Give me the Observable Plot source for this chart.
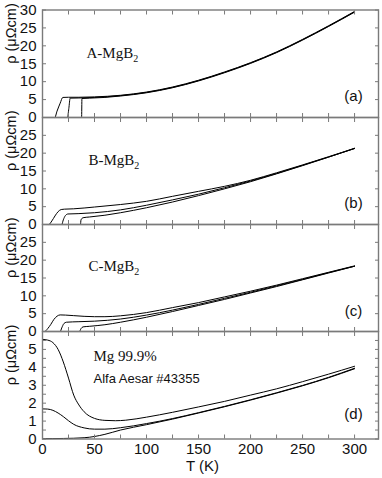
<!DOCTYPE html>
<html><head><meta charset="utf-8">
<script src="https://cdn.jsdelivr.net/npm/d3@7"></script>
<script src="https://cdn.jsdelivr.net/npm/@observablehq/plot@0.6"></script>
<style>
html,body{margin:0;padding:0;background:#fff;}
#chart{position:relative;width:382px;height:478px;overflow:hidden;background:#fff;}
#chart svg{position:absolute;left:0;top:0;}
</style></head><body><div id="chart"></div>
<script>
// ---- data: [T (K), rho (μΩcm)] ----
const a1 = [[0,0],[11.8,0],[14,1.8],[17,4.0],[19.5,5.6],[25,5.65],[35,5.65],[50,5.75],[75,6.2],[100,7.1],[125,8.5],[150,10.4],[175,12.7],[200,15.3],[225,18.3],[250,21.8],[275,25.6],[300,29.6]];
const a2 = [[0,0],[24,0],[25.3,2.5],[26.6,5.4],[35,5.45],[50,5.6],[75,6.1],[100,7.0],[125,8.4],[150,10.3],[175,12.6],[200,15.2],[225,18.2],[250,21.7],[275,25.5],[300,29.5]];
const a3 = [[0,0],[37.6,0],[37.9,5.3],[45,5.4],[60,5.6],[75,6.0],[100,6.9],[125,8.3],[150,10.2],[175,12.5],[200,15.1],[225,18.1],[250,21.6],[275,25.4],[300,29.4]];

const b1 = [[0,0],[6,0],[9,1.0],[12,2.4],[15,3.6],[18,4.2],[21,4.3],[30,4.4],[50,4.9],[75,5.6],[100,6.5],[125,7.9],[150,9.3],[175,10.7],[200,12.4],[225,14.5],[250,16.7],[275,19.0],[300,21.4]];
const b2 = [[0,0],[18.5,0],[20,1.3],[22,2.5],[24.5,2.95],[35,3.05],[50,3.3],[75,4.1],[100,5.4],[125,6.9],[150,8.5],[175,10.3],[200,12.2],[225,14.3],[250,16.6],[275,18.9],[300,21.3]];
const b3 = [[0,0],[36.5,0],[37,1.3],[39,1.9],[45,2.1],[60,2.6],[75,3.3],[100,4.7],[125,6.3],[150,8.1],[175,10.0],[200,12.0],[225,14.2],[250,16.5],[275,18.9],[300,21.3]];

const c1 = [[0,0],[2,0],[5,0.8],[8,2.0],[11,3.4],[14,4.3],[17,4.65],[22,4.6],[30,4.45],[40,4.25],[50,4.15],[60,4.15],[75,4.4],[100,5.3],[125,6.7],[150,8.1],[175,9.7],[200,11.3],[225,13.0],[250,14.8],[275,16.6],[300,18.4]];
const c2 = [[0,0],[17,0],[18.5,1.0],[20.5,2.2],[23,2.6],[35,2.75],[50,2.9],[75,3.5],[100,4.6],[125,6.0],[150,7.6],[175,9.3],[200,11.0],[225,12.8],[250,14.6],[275,16.5],[300,18.3]];
const c3 = [[0,0],[35.5,0],[37,0.8],[39,1.3],[45,1.45],[60,1.9],[75,2.6],[100,4.0],[125,5.6],[150,7.3],[175,9.0],[200,10.8],[225,12.6],[250,14.5],[275,16.4],[300,18.3]];

const mg1 = [[0,5.56],[5,5.52],[10,5.38],[15,5.0],[20,4.3],[25,3.4],[30,2.45],[35,1.9],[40,1.52],[50,1.15],[60,1.04],[70,1.02],[80,1.05],[100,1.22],[125,1.49],[150,1.79],[175,2.1],[200,2.45],[225,2.8],[250,3.2],[275,3.62],[300,4.06]];
const mg2 = [[0,1.68],[5,1.67],[10,1.6],[15,1.45],[20,1.25],[25,1.02],[30,0.82],[40,0.62],[50,0.55],[60,0.55],[75,0.63],[100,0.86],[125,1.14],[150,1.47],[175,1.82],[200,2.19],[225,2.58],[250,2.99],[275,3.44],[300,3.95]];
const mg3 = [[0,0.02],[20,0.03],[40,0.07],[50,0.14],[60,0.26],[75,0.5],[100,0.8],[125,1.11],[150,1.45],[175,1.8],[200,2.17],[225,2.56],[250,2.97],[275,3.42],[300,3.92]];

// ---- ticks & labels ----
const xTicks = [0,25,50,75,100,125,150,175,200,225,250,275,300];
const xLabels = [0,50,100,150,200,250,300];
const yTicksMgB = [0,5,10,15,20,25,30];
const yLabelsA = [0,5,10,15,20,25,30];
const yLabelsBC = [0,5,10,15,20,25];
const yTicksMg = [0,0.5,1,1.5,2,2.5,3,3.5,4,4.5,5,5.5];
const yLabelsMg = [0,1,2,3,4,5];
const panelTags = ["(a)","(b)","(c)","(d)"];
const sampleNames = ["A-MgB2","B-MgB2","C-MgB2"];
const mgNote1 = "Mg 99.9%";
const mgNote2 = "Alfa Aesar #43355";
const yTitle = "ρ (μΩcm)";
const xTitle = "T (K)";

const W = 382, H = 478;
const GRAY = "#7a7a7a";
const SANS = "'Liberation Sans', Arial, sans-serif";
const SERIF = "'Liberation Serif', 'Times New Roman', serif";

const toRows = (curves) => curves.flatMap((c, i) => c.map(([T, r]) => ({T, r, id: i})));
const fmt = (d) => String(d);

const panels = [
  {curves:[a1,a2,a3], y:[0,30], ticks:yTicksMgB, labels:yLabelsA, top:9.5, bottom:117, tag:panelTags[0], tagDy:-17, name:sampleNames[0], nameDx:44, nameDy:37},
  {curves:[b1,b2,b3], y:[0,30], ticks:yTicksMgB, labels:yLabelsBC, top:117, bottom:224, tag:panelTags[1], tagDy:-17, name:sampleNames[1], nameDx:46, nameDy:37},
  {curves:[c1,c2,c3], y:[0,30], ticks:yTicksMgB, labels:yLabelsBC, top:224, bottom:331, tag:panelTags[2], tagDy:-15.5, name:sampleNames[2], nameDx:46, nameDy:36},
  {curves:[mg1,mg2,mg3], y:[0,6], ticks:yTicksMg, labels:yLabelsMg, top:331, bottom:438.5, tag:panelTags[3], tagDy:-20, last:true}
];

const chart = document.getElementById("chart");

panels.forEach((p) => {
  const marks = [
    Plot.line(toRows(p.curves), {x:"T", y:"r", z:"id", stroke:"#000", strokeWidth:1, curve:"monotone-x"}),
    Plot.frame({stroke:GRAY, strokeWidth:1.4}),
    Plot.axisY({anchor:"left", ticks:p.ticks, tickSize:4, dx:4, tickFormat:() => "", label:null, stroke:GRAY}),
    Plot.axisY({anchor:"right", ticks:p.ticks, tickSize:4, dx:-4, tickFormat:() => "", label:null, stroke:GRAY}),
    Plot.axisX({anchor:"bottom", ticks:xTicks, tickSize:4, dy:-4, tickFormat:() => "", label:null, stroke:GRAY}),
    Plot.axisX({anchor:"top", ticks:xTicks, tickSize:4, dy:4, tickFormat:() => "", label:null, stroke:GRAY}),
    Plot.axisY({anchor:"left", ticks:p.labels, tickSize:0, tickPadding:6, tickFormat:fmt, label:null, fill:"#111", fontSize:15}),
    Plot.text([yTitle], {frameAnchor:"left", rotate:-90, dx:-31, fontSize:14.5, fill:"#111", fontFamily:SANS}),
    Plot.text([p.tag], {frameAnchor:"bottom-right", dx:-25, dy:p.tagDy, textAnchor:"middle", fontSize:15, fill:"#111", fontFamily:SANS})
  ];
  if (p.name) {
    marks.push(Plot.text([p.name], {frameAnchor:"top-left", dx:p.nameDx, dy:p.nameDy, textAnchor:"start", fontSize:15, fill:"#111", fontFamily:SERIF}));
  }
  if (p.last) {
    marks.push(Plot.axisX({anchor:"bottom", ticks:xLabels, tickSize:0, tickPadding:4, tickFormat:fmt, label:null, fill:"#111", fontSize:15}));
    marks.push(Plot.text([xTitle], {frameAnchor:"bottom", dx:-8, dy:32, fontSize:15, fill:"#111", fontFamily:SANS}));
    marks.push(Plot.text([mgNote1], {frameAnchor:"top-left", dx:51, dy:19, textAnchor:"start", fontSize:15, fill:"#111", fontFamily:SERIF}));
    marks.push(Plot.text([mgNote2], {frameAnchor:"top-left", dx:51, dy:42, textAnchor:"start", fontSize:13, fill:"#111", fontFamily:SANS}));
  }
  const svg = Plot.plot({
    width: W, height: H,
    marginTop: p.top, marginBottom: H - p.bottom, marginLeft: 42, marginRight: 4,
    x: {domain:[0,323]},
    y: {domain:p.y},
    style: {background:"transparent", fontFamily:SANS, fontSize:"15px", color:"#111", overflow:"visible"},
    marks
  });
  // subscript the 2 in MgB2
  d3.select(svg).selectAll("text").each(function() {
    const t = this.textContent;
    if (/MgB2$/.test(t) && this.children.length === 0) {
      this.textContent = t.slice(0, -1);
      d3.select(this).append("tspan").attr("dy", 4).attr("font-size", 10).text("2");
    }
  });
  chart.appendChild(svg);
});
</script>
</body></html>
